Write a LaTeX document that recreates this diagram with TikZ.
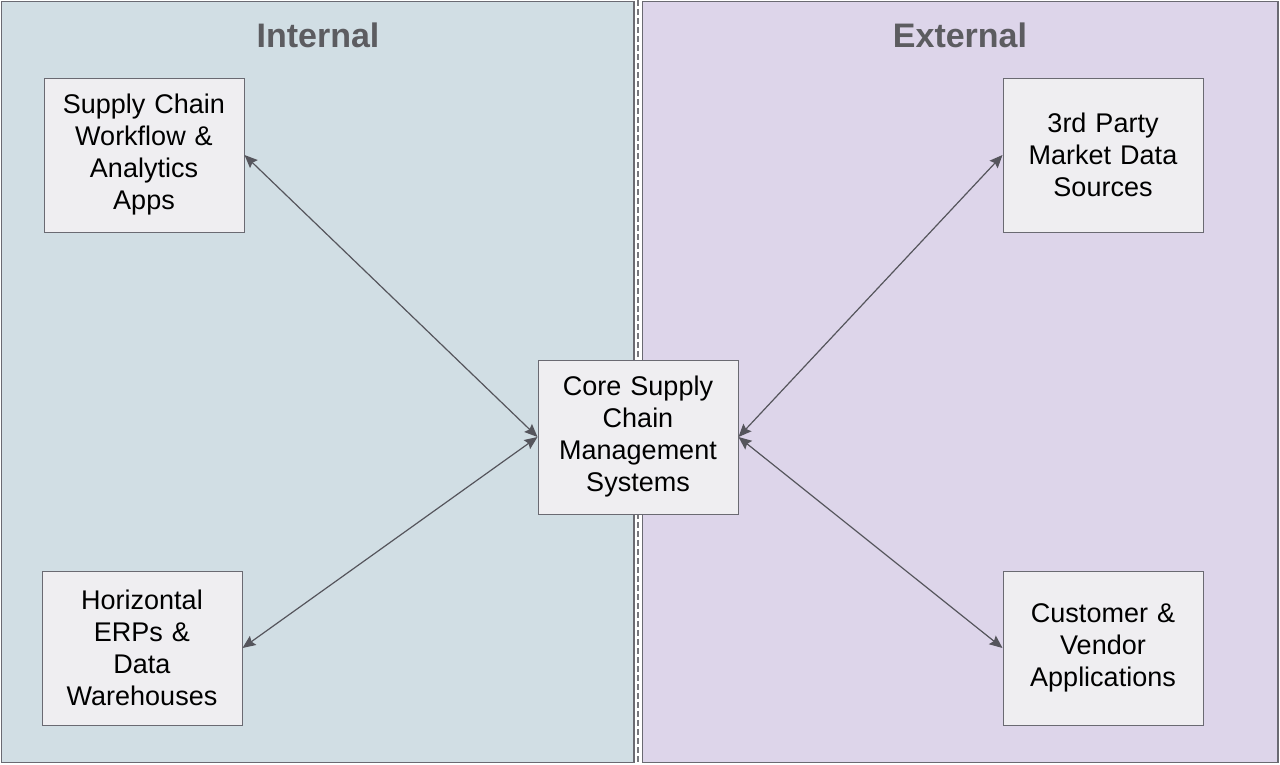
\documentclass[tikz,border=0pt]{standalone}
\usepackage{fontspec}
\setmainfont{Liberation Sans}
\usetikzlibrary{arrows.meta}
\definecolor{intbg}{HTML}{D1DEE4}
\definecolor{extbg}{HTML}{DDD5EA}
\definecolor{boxbg}{HTML}{EFEEF1}
\definecolor{edge}{HTML}{6A6A72}
\definecolor{titlec}{HTML}{5C5C60}
\definecolor{arr}{HTML}{55555C}
\begin{document}
\begin{tikzpicture}[x=1pt,y=-1pt,
  panel/.style={draw=edge,line width=1.3pt},
  sbox/.style={draw=edge,fill=boxbg,line width=1pt,minimum width=200pt,minimum height=154pt,
    inner sep=0pt,align=center,text width=196pt,font=\fontsize{27}{32}\selectfont},
  ttl/.style={font=\fontsize{34}{36}\selectfont\bfseries,text=titlec},
  link/.style={draw=arr,line width=1.2pt,{Stealth[length=13pt,width=11pt,inset=2pt]}-{Stealth[length=13pt,width=11pt,inset=2pt]}}]
\useasboundingbox (0,0) rectangle (1280,764);
\fill[white] (0,0) rectangle (1280,764);
\draw[panel,fill=intbg] (1.5,1.5) rectangle (634,762.5);
\draw[panel,fill=extbg] (642.5,1.5) rectangle (1278,762.5);
\draw[white,line width=4pt] (638,0) -- (638,764);
\draw[arr!80,line width=1.3pt,dash pattern=on 6pt off 3pt] (638,0) -- (638,764);
\node[ttl] (tin) at (318,35) {Internal};
\node[ttl] (tex) at (960,35) {External};
\node[sbox] (wf) at (144,155) {Supply Chain\\Workflow \&\\Analytics\\Apps};
\node[sbox] (erp) at (142,648) {Horizontal\\ERPs \&\\Data\\Warehouses};
\node[sbox] (core) at (638,437) {Core Supply\\Chain\\Management\\Systems};
\node[sbox] (tp) at (1103,155) {3rd Party\\Market Data\\Sources};
\node[sbox] (cv) at (1103,648) {Customer \&\\Vendor\\Applications};
\draw[link] (wf.east) -- (core.west);
\draw[link] (erp.east) -- (core.west);
\draw[link] (core.east) -- (tp.west);
\draw[link] (core.east) -- (cv.west);
\end{tikzpicture}
\end{document}
